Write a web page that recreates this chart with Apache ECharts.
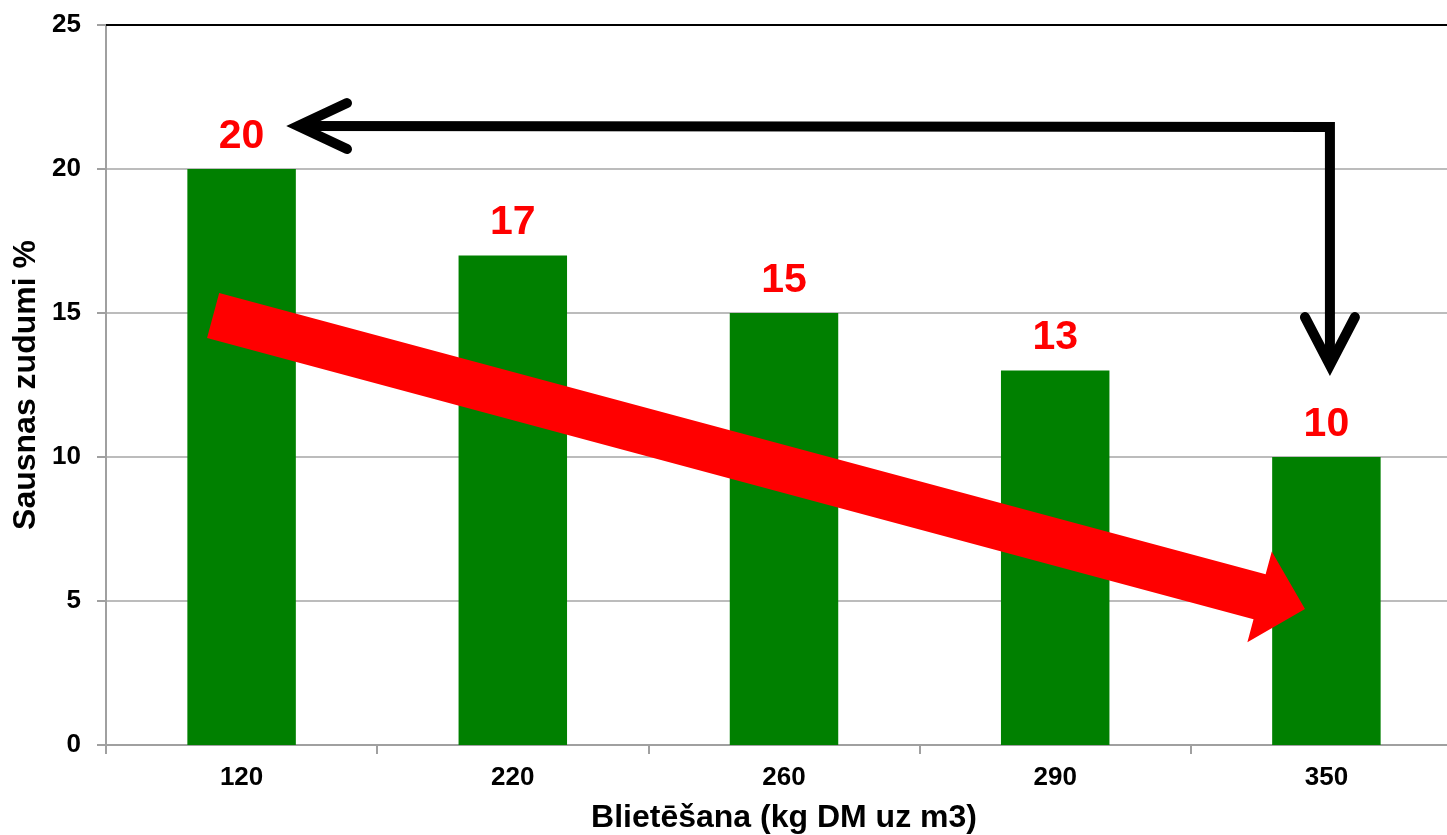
<!DOCTYPE html>
<html>
<head>
<meta charset="utf-8">
<script src="https://cdn.jsdelivr.net/npm/echarts@6/dist/echarts.min.js"></script>
<style>
  html, body { margin: 0; padding: 0; background: #fff; overflow: hidden; }
  #chart { width: 1447px; height: 835px; }
</style>
</head>
<body>
<div id="chart"></div>
<script>
// Compaction density (kg DM per m3) vs dry-matter losses (%)
const categories = ['120', '220', '260', '290', '350'];
const lossValues = [20, 17, 15, 13, 10];
const yTicks = { min: 0, max: 25, interval: 5 };

// Annotation anchors as [category position, value]
const trendTail = [-0.105, 14.91];
const trendTip = [3.921, 4.72];
const bracketLeftTip = [0.208, 21.49];
const bracketCorner = [4.013, 21.46];
const bracketDownTip = [4.013, 13.19];

const FONT = '"Liberation Sans", Arial, sans-serif';
const chart = echarts.init(document.getElementById('chart'));

chart.setOption({
  animation: false,
  backgroundColor: '#fff',
  // the last category band runs a little past the right edge
  grid: { left: 106, right: -15, top: 25, bottom: 90, containLabel: false, outerBoundsMode: 'none' },
  xAxis: [{
    type: 'category',
    data: categories,
    name: 'Blietēšana (kg DM uz m3)',
    nameLocation: 'middle',
    nameGap: 57,
    nameTextStyle: { fontFamily: FONT, fontWeight: 'bold', fontSize: 32, color: '#000' },
    axisLine: { lineStyle: { color: '#a0a0a0', width: 2 } },
    axisTick: { show: true, alignWithLabel: false, length: 9, lineStyle: { color: '#a0a0a0', width: 2 } },
    axisLabel: { margin: 20, fontFamily: FONT, fontWeight: 'bold', fontSize: 26, color: '#000' }
  }, {
    type: 'category',
    data: categories,
    position: 'top',
    axisLine: { lineStyle: { color: '#000', width: 2 } },
    axisTick: { show: false },
    axisLabel: { show: false }
  }],
  yAxis: {
    type: 'value',
    min: yTicks.min,
    max: yTicks.max,
    interval: yTicks.interval,
    name: 'Sausnas zudumi %',
    nameLocation: 'middle',
    nameGap: 64,
    nameMoveOverlap: false,
    nameTextStyle: { fontFamily: FONT, fontWeight: 'bold', fontSize: 32, color: '#000' },
    axisLine: { show: true, lineStyle: { color: '#a0a0a0', width: 2 } },
    axisTick: { show: true, length: 9, lineStyle: { color: '#a0a0a0', width: 2 } },
    axisLabel: { margin: 25, fontFamily: FONT, fontWeight: 'bold', fontSize: 26, color: '#000' },
    splitLine: { lineStyle: { color: '#a6a6a6', width: 1.5 } }
  },
  series: [{
    type: 'bar',
    data: lossValues,
    barWidth: '40%',
    itemStyle: { color: '#008000' },
    label: {
      show: true,
      position: 'top',
      distance: 12,
      fontFamily: FONT,
      fontWeight: 'bold',
      fontSize: 41,
      color: '#ff0000'
    }
  }]
});

// Convert a [category position, value] pair to pixels
function toPx(pt) {
  const a = chart.convertToPixel({ gridIndex: 0 }, [0, pt[1]]);
  const b = chart.convertToPixel({ gridIndex: 0 }, [1, pt[1]]);
  return [a[0] + (b[0] - a[0]) * pt[0], a[1]];
}

function blockArrow(tail, tip, halfShaft, halfHead, headLen) {
  const dx = tip[0] - tail[0], dy = tip[1] - tail[1];
  const len = Math.hypot(dx, dy);
  const ux = dx / len, uy = dy / len;
  const nx = -uy, ny = ux;
  const bx = tip[0] - ux * headLen, by = tip[1] - uy * headLen;
  return [
    [tail[0] + nx * halfShaft, tail[1] + ny * halfShaft],
    [bx + nx * halfShaft, by + ny * halfShaft],
    [bx + nx * halfHead, by + ny * halfHead],
    tip,
    [bx - nx * halfHead, by - ny * halfHead],
    [bx - nx * halfShaft, by - ny * halfShaft],
    [tail[0] - nx * halfShaft, tail[1] - ny * halfShaft]
  ];
}

const tTail = toPx(trendTail), tTip = toPx(trendTip);
const lTip = toPx(bracketLeftTip), corner = toPx(bracketCorner), dTip = toPx(bracketDownTip);
const blackStroke = { stroke: '#000', lineWidth: 10, fill: null, lineCap: 'round', lineJoin: 'round' };

chart.setOption({
  graphic: [
    {
      type: 'polygon', z: 100,
      shape: { points: blockArrow(tTail, tTip, 23.3, 47, 47) },
      style: { fill: '#ff0000' }
    },
    {
      type: 'polyline', z: 100,
      shape: { points: [[lTip[0] + 4, lTip[1]], [corner[0], corner[1]], dTip] },
      style: Object.assign({}, blackStroke, { lineCap: 'butt', lineJoin: 'miter' })
    },
    {
      type: 'polyline', z: 101,
      shape: { points: [[lTip[0] + 49, lTip[1] - 23], lTip, [lTip[0] + 49, lTip[1] + 23]] },
      style: Object.assign({}, blackStroke, { lineJoin: 'miter' })
    },
    {
      type: 'polyline', z: 101,
      shape: { points: [[dTip[0] - 25, dTip[1] - 48], dTip, [dTip[0] + 25, dTip[1] - 48]] },
      style: Object.assign({}, blackStroke, { lineJoin: 'miter' })
    }
  ]
});
</script>
</body>
</html>
